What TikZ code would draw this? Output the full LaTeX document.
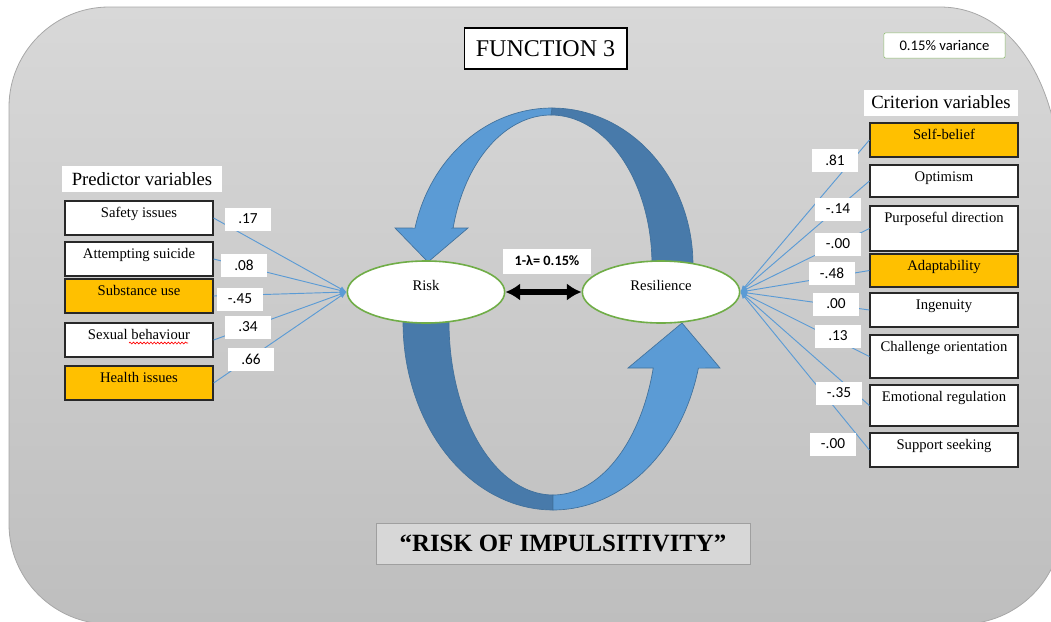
\documentclass[tikz,border=0pt]{standalone}
\usepackage{fontspec}
\setmainfont{Liberation Serif}
\newfontfamily\calibri{Carlito}
\usetikzlibrary{shapes.geometric,arrows.meta,decorations.pathmorphing}

\definecolor{bgtop}{RGB}{216,216,216}
\definecolor{bgbot}{RGB}{190,190,190}
\definecolor{bgedge}{RGB}{168,168,168}
\definecolor{gold}{RGB}{255,192,0}
\definecolor{lightblue}{RGB}{91,155,213}
\definecolor{darkblue}{RGB}{72,122,170}
\definecolor{blueedge}{RGB}{65,113,156}
\definecolor{ellgreen}{RGB}{112,173,71}
\definecolor{boxline}{RGB}{40,40,40}

\tikzset{
  vbox/.style={draw=boxline, line width=0.9pt, fill=white, minimum width=111pt,
    inner xsep=2pt, inner ysep=0pt, text height=12pt, text depth=#1,
    font=\fontsize{11}{13}\selectfont},
  hl/.style={fill=gold},
  coef/.style={fill=white, minimum width=34.5pt, minimum height=17.25pt, inner sep=0pt,
    font=\calibri\fontsize{11.5}{13}\selectfont},
  head/.style={fill=white, minimum height=19.5pt, inner sep=0pt,
    font=\fontsize{14}{16}\selectfont},
  latent/.style={ellipse, draw=ellgreen, line width=1.2pt, fill=white,
    minimum width=118pt, minimum height=46.5pt, inner sep=0pt,
    text height=6pt, text depth=8pt,
    font=\fontsize{11}{13}\selectfont},
  conn/.style={draw=lightblue, line width=0.7pt, -{Latex[length=5pt,width=4pt]}},
}

\begin{document}
\begin{tikzpicture}[x=0.75pt, y=-0.75pt]
    \useasboundingbox (0,0) rectangle (1051,622);

    % background panel
    \shade[top color=bgtop, bottom color=bgbot, draw=bgedge, line width=0.6pt]
        (9,107) .. controls (9,52) and (54,7) .. (109,7)
        -- (940,7) .. controls (1010,7) and (1062,80) .. (1062,200)
        -- (1062,524) .. controls (1062,579) and (1017,624) .. (962,624)
        -- (109,624) .. controls (54,624) and (9,579) .. (9,524) -- cycle;

    % top curved arrow (Resilience -> Risk)
    \filldraw[fill=darkblue, draw=blueedge, line width=0.5pt]
        plot[domain=90:0, samples=40, variable=\t] ({552+141*cos(\t)},{265-157*sin(\t)})
        -- (693,272) -- (652,272)
        -- plot[domain=0:90, samples=40, variable=\t] ({551+101*cos(\t)},{265-150*sin(\t)}) -- cycle;
    \filldraw[fill=lightblue, draw=blueedge, line width=0.5pt]
        plot[domain=90:166.4, samples=40, variable=\t] ({552+141*cos(\t)},{265-157*sin(\t)})
        -- (395,228) -- (428,262) -- (468,228) -- (453,228)
        -- plot[domain=165.7:90, samples=40, variable=\t] ({551+101*cos(\t)},{265-150*sin(\t)}) -- cycle;

    % bottom curved arrow (Risk -> Resilience)
    \filldraw[fill=darkblue, draw=blueedge, line width=0.5pt]
        (403,310)
        -- plot[domain=180:270, samples=40, variable=\t] ({553+150*cos(\t)},{322-188*sin(\t)})
        -- plot[domain=270:180, samples=40, variable=\t] ({553+104*cos(\t)},{322-173*sin(\t)})
        -- (449,310) -- cycle;
    \filldraw[fill=lightblue, draw=blueedge, line width=0.5pt]
        plot[domain=270:345.8, samples=40, variable=\t] ({553+150*cos(\t)},{322-188*sin(\t)})
        -- (720,368) -- (682,323) -- (628,368) -- (653,368)
        -- plot[domain=344.6:270, samples=40, variable=\t] ({553+104*cos(\t)},{322-173*sin(\t)}) -- cycle;

    % latent variables
    \node[latent] (risk) at (426,292) {Risk};
    \node[latent] (resil) at (661,292) {Resilience};

    % predictor variables
    \node[head, minimum width=120pt] (predhead) at (142,179) {Predictor variables};
    \node[vbox=13.5pt] (safety) at (139,218) {Safety issues};
    \node[vbox=13.5pt] (suicide) at (139,259) {Attempting suicide};
    \node[vbox=13.5pt, hl] (substance) at (139,296) {Substance use};
    \node[vbox=13.5pt] (sexual) at (139,340) {Sexual behaviour};
    \node[vbox=13.5pt, hl] (health) at (139,383) {Health issues};
    \draw[red, line width=0.5pt, decorate, decoration={snake, amplitude=0.7pt, segment length=2.6pt}]
        (129,343) -- (188,343);

    % criterion variables
    \node[head, minimum width=115.5pt] (crithead) at (941,102.5) {Criterion variables};
    \node[vbox=13.5pt, hl] (selfbelief) at (944,140) {Self-belief};
    \node[vbox=12pt] (optimism) at (944,181) {Optimism};
    \node[vbox=21.75pt] (purpose) at (944,228.5) {Purposeful direction};
    \node[vbox=12.75pt, hl] (adapt) at (944,270.5) {Adaptability};
    \node[vbox=13.5pt] (ingenuity) at (944,310) {Ingenuity};
    \node[vbox=20.25pt] (challenge) at (944,356.5) {Challenge orientation};
    \node[vbox=18.75pt] (emotion) at (944,405.5) {Emotional regulation};
    \node[vbox=13.5pt] (support) at (944,450) {Support seeking};

    % loadings
    \foreach \v in {safety,suicide,substance,sexual,health}
        \draw[conn] (\v.east) -- (risk.west);
    \foreach \v in {selfbelief,optimism,purpose,adapt,ingenuity,challenge,emotion,support}
        \draw[conn] (\v.west) -- (resil.east);

    \node[coef] (c1) at (248,219) {.17};
    \node[coef] (c2) at (244,265) {.08};
    \node[coef] (c3) at (240,299) {-.45};
    \node[coef] (c4) at (248,327) {.34};
    \node[coef] (c5) at (251,359) {.66};

    \node[coef] (d1) at (835,160) {.81};
    \node[coef] (d2) at (838,209) {-.14};
    \node[coef] (d3) at (838,244) {-.00};
    \node[coef] (d4) at (832,273) {-.48};
    \node[coef] (d5) at (836,304) {.00};
    \node[coef] (d6) at (838,336) {.13};
    \node[coef] (d7) at (839,393) {-.35};
    \node[coef] (d8) at (833,444) {-.00};

    % canonical correlation
    \draw[line width=4.5pt, {Latex[length=11pt,width=13pt]}-{Latex[length=11pt,width=13pt]}] (risk) -- (resil);
    \node[fill=white, minimum width=66pt, minimum height=18.75pt, inner sep=0pt,
        font=\calibri\bfseries\fontsize{10.7}{12}\selectfont] (lambda) at (547,261) {1-λ= 0.15\%};

    % titles
    \node[draw=black, line width=1pt, fill=white, minimum width=122pt, minimum height=30.75pt,
        font=\fontsize{18}{20}\selectfont] (func) at (545.5,48.5) {FUNCTION 3};
    \node[draw=ellgreen!80, fill=white, rounded corners=1.5pt, minimum width=91pt, minimum height=19pt,
        font=\calibri\fontsize{11}{13}\selectfont] (variance) at (944.5,45.5) {0.15\% variance};
    \node[draw=gray!75, fill=bgtop!95!bgbot, minimum width=280.5pt, minimum height=30.75pt,
        font=\bfseries\fontsize{18.6}{20}\selectfont] (impuls) at (563,543.5) {“RISK OF IMPULSITIVITY”};

\end{tikzpicture}
\end{document}
